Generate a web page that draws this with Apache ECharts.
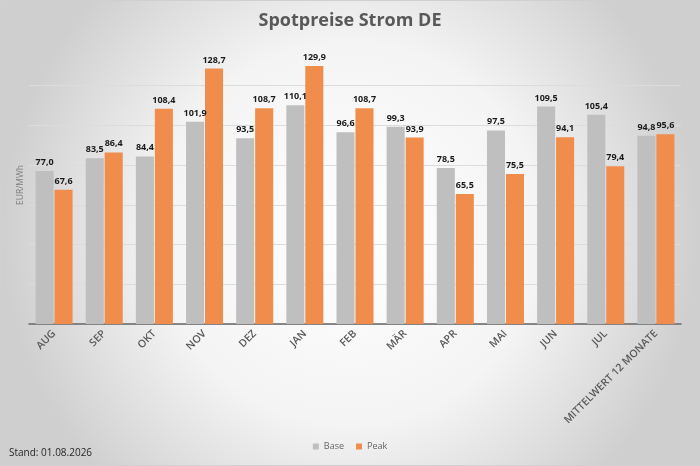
<!DOCTYPE html>
<html>
<head>
<meta charset="utf-8">
<script src="https://cdn.jsdelivr.net/npm/echarts@6/dist/echarts.min.js"></script>
<style>
  html, body { margin: 0; padding: 0; }
  #chart { width: 700px; height: 466px; box-sizing: border-box; border: 1px solid #d0d0d0; }
</style>
</head>
<body>
<div id="chart"></div>
<script>
// Kategorien und Werte (EUR/MWh)
const categories = ["AUG", "SEP", "OKT", "NOV", "DEZ", "JAN", "FEB", "MÄR", "APR", "MAI", "JUN", "JUL", "MITTELWERT 12 MONATE"];
const baseValues = [77.0, 83.5, 84.4, 101.9, 93.5, 110.1, 96.6, 99.3, 78.5, 97.5, 109.5, 105.4, 94.8];
const peakValues = [67.6, 86.4, 108.4, 128.7, 108.7, 129.9, 108.7, 93.9, 65.5, 75.5, 94.1, 79.4, 95.6];
const seriesNames = ["Base", "Peak"];

const fmt = (v) => v.toFixed(1).replace(".", ",");

const myChart = echarts.init(document.getElementById("chart"));

const labelStyle = {
  show: true,
  position: "top",
  distance: 4,
  fontFamily: "Open Sans",
  fontSize: 9,
  fontWeight: "bold",
  color: "#1a1a1a",
  formatter: (p) => fmt(p.value),
};

const options = {
  backgroundColor: {
    type: "radial",
    x: 0.5, y: 0.5, r: 0.75,
    colorStops: [
      { offset: 0, color: "#ffffff" },
      { offset: 0.55, color: "#f4f4f4" },
      { offset: 1, color: "#cfcfcf" },
    ],
  },
  textStyle: { fontFamily: "Open Sans" },
  title: {
    text: "Spotpreise Strom DE",
    left: "center",
    top: 6,
    textStyle: { fontSize: 18, fontWeight: "bold", color: "#595959", fontFamily: "Open Sans" },
  },
  legend: {
    bottom: 9,
    left: "center",
    itemWidth: 6,
    itemHeight: 6,
    itemGap: 12,
    icon: "rect",
    textStyle: { fontSize: 9, color: "#666666", fontFamily: "Open Sans" },
    data: seriesNames,
  },
  graphic: [
    {
      type: "text",
      left: 8,
      top: 447,
      style: { text: "Stand: 01.08.2026", fontSize: 10, fill: "#262626", fontFamily: "Open Sans" },
    },
  ],
  color: ["#bfbfbf", "#f08d4c"],
  grid: { left: 28, right: 18, top: 45, bottom: 141 },
  xAxis: {
    type: "category",
    data: categories,
    axisLine: { lineStyle: { color: "#666666", width: 1.5 } },
    axisTick: { show: false },
    axisLabel: { rotate: 45, fontSize: 10.5, fontWeight: 600, color: "#595959", margin: 8, fontFamily: "Open Sans" },
  },
  yAxis: {
    type: "value",
    min: 0,
    max: 140,
    interval: 20,
    name: "EUR/MWh",
    nameLocation: "middle",
    nameGap: 4,
    nameTextStyle: { fontSize: 8.5, color: "#7f7f7f", fontFamily: "Open Sans" },
    axisLabel: { show: false },
    axisLine: { show: false },
    axisTick: { show: false },
    splitLine: {
      lineStyle: {
        color: ["#dcdcdc", "#dcdcdc", "#dcdcdc", "#dcdcdc", "#dcdcdc", "#dcdcdc", "#dcdcdc", "rgba(0,0,0,0)"],
        width: 1,
      },
    },
  },
  series: [
    {
      name: seriesNames[0],
      type: "bar",
      data: baseValues,
      barWidth: "36%",
      barGap: "5%",
      label: labelStyle,
    },
    {
      name: seriesNames[1],
      type: "bar",
      data: peakValues,
      barWidth: "36%",
      barGap: "5%",
      label: labelStyle,
    },
  ],
};

myChart.setOption(options);
</script>
</body>
</html>
